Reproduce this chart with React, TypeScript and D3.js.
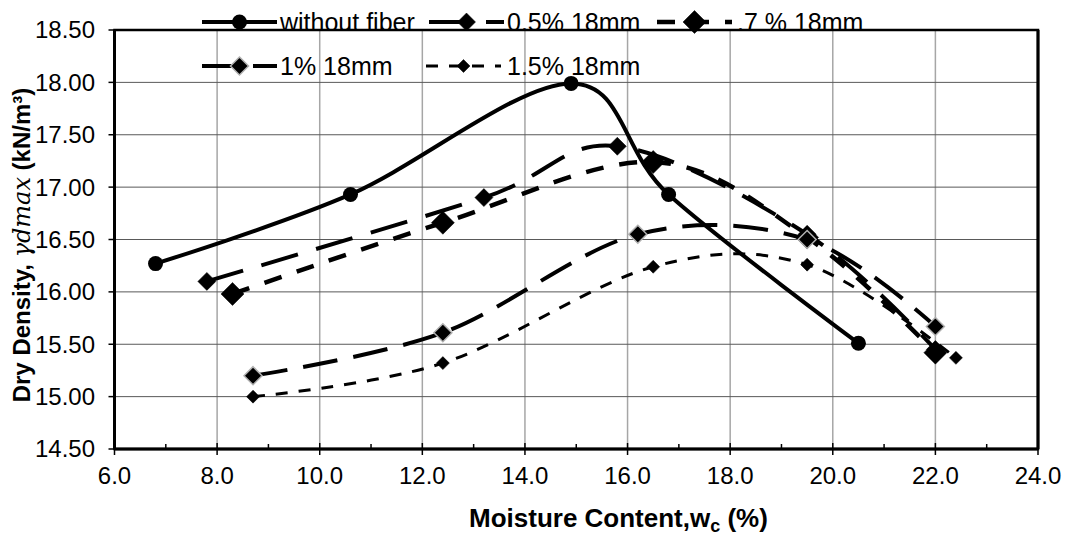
import React from "react";
import * as d3 from "d3";

const W = 1067;
const H = 536;

const seriesNames = ["without fiber", "0.5% 18mm", ".7 % 18mm", "1% 18mm", "1.5% 18mm"];

const xWithout = [6.8, 10.6, 14.9, 16.8, 20.5];
const yWithout = [16.27, 16.93, 17.99, 16.93, 15.51];

const x05 = [7.8, 13.2, 15.8, 19.5, 22.0];
const y05 = [16.1, 16.9, 17.39, 16.55, 15.45];

const x07 = [8.3, 12.4, 16.5, 19.5, 22.0];
const y07 = [15.98, 16.66, 17.24, 16.52, 15.42];

const x1 = [8.7, 12.4, 16.2, 19.5, 22.0];
const y1 = [15.2, 15.61, 16.55, 16.5, 15.67];

const x15 = [8.7, 12.4, 16.5, 19.5, 22.4];
const y15 = [15.0, 15.32, 16.24, 16.26, 15.37];

const xTicks = [6, 8, 10, 12, 14, 16, 18, 20, 22, 24];
const xMinor = [7, 9, 11, 13, 15, 17, 19, 21, 23];
const yTicks = [14.5, 15, 15.5, 16, 16.5, 17, 17.5, 18, 18.5];

type Style = {
  dash: string;
  width: number;
  marker: "circle" | "diamond";
  size: number;
  markerStroke: string;
};

const styles: Style[] = [
  { dash: "", width: 4, marker: "circle", size: 7.5, markerStroke: "#000" },
  { dash: "38,19", width: 4, marker: "diamond", size: 9, markerStroke: "#000" },
  { dash: "18,16", width: 4.5, marker: "diamond", size: 11.5, markerStroke: "#000" },
  { dash: "35,16", width: 4, marker: "diamond", size: 9, markerStroke: "#b0b0b0" },
  { dash: "12,11", width: 3, marker: "diamond", size: 6.5, markerStroke: "#000" },
];

const FONT = "'Liberation Sans', Arial, Helvetica, sans-serif";

export default function App() {
  const left = 114.5;
  const right = 1038;
  const top = 30;
  const bottom = 449;
  const x = d3.scaleLinear().domain([6, 24]).range([left, right]);
  const y = d3.scaleLinear().domain([14.5, 18.5]).range([bottom, top]);

  const data = [
    xWithout.map((v, i) => [v, yWithout[i]]),
    x05.map((v, i) => [v, y05[i]]),
    x07.map((v, i) => [v, y07[i]]),
    x1.map((v, i) => [v, y1[i]]),
    x15.map((v, i) => [v, y15[i]]),
  ];

  const line = d3
    .line<number[]>()
    .x((d) => x(d[0]))
    .y((d) => y(d[1]))
    .curve(d3.curveCatmullRom.alpha(0));

  const marker = (s: Style, cx: number, cy: number, key: string) =>
    s.marker === "circle" ? (
      <circle key={key} cx={cx} cy={cy} r={s.size} fill="#000" />
    ) : (
      <path
        key={key}
        d={`M${cx},${cy - s.size}L${cx + s.size},${cy}L${cx},${cy + s.size}L${cx - s.size},${cy}Z`}
        fill="#000"
        stroke={s.markerStroke}
        strokeWidth={s.markerStroke === "#000" ? 0.5 : 1.5}
      />
    );

  const legendItems = [
    { x0: 202, x1: 277, cy: 22, tx: 280 },
    { x0: 429, x1: 504, cy: 22, tx: 507 },
    { x0: 657, x1: 732, cy: 22, tx: 737 },
    { x0: 202, x1: 277, cy: 66, tx: 280 },
    { x0: 426, x1: 501, cy: 66, tx: 507 },
  ];

  return (
    <svg
      width={W}
      height={H}
      style={{ position: "absolute", left: 0, top: 0, background: "#fff" }}
      fontFamily={FONT}
    >
      <rect x={0} y={0} width={W} height={H} fill="#fff" />
      {/* grid */}
      {xTicks.slice(1, -1).map((t) => (
        <line key={"gx" + t} x1={x(t)} x2={x(t)} y1={top} y2={bottom} stroke="#a6a6a6" strokeWidth={1.5} />
      ))}
      {yTicks.slice(1, -1).map((t) => (
        <line key={"gy" + t} x1={left} x2={right} y1={y(t)} y2={y(t)} stroke="#595959" strokeWidth={1} />
      ))}
      {/* series */}
      {data.map((pts, i) => (
        <g key={"s" + i}>
          <path
            d={line(pts) || ""}
            fill="none"
            stroke="#000"
            strokeWidth={styles[i].width}
            strokeDasharray={styles[i].dash || undefined}
            strokeLinecap={i === 0 ? "round" : "butt"}
          />
          {pts.map((p, j) => marker(styles[i], x(p[0]), y(p[1]), `m${i}-${j}`))}
        </g>
      ))}
      {/* frame */}
      <rect x={left} y={top} width={right - left} height={bottom - top} fill="none" stroke="#000" strokeWidth={2.5} />
      <line x1={left} x2={left} y1={top} y2={bottom} stroke="#000" strokeWidth={3} />
      <line x1={left} x2={right} y1={bottom} y2={bottom} stroke="#000" strokeWidth={3} />
      <line x1={right} x2={right} y1={top} y2={bottom} stroke="#000" strokeWidth={3} />
      {/* y ticks */}
      {yTicks.map((t) => (
        <g key={"yt" + t}>
          <line x1={left - 6} x2={left} y1={y(t)} y2={y(t)} stroke="#000" strokeWidth={1.5} />
          <text x={95} y={y(t)} dy="0.35em" textAnchor="end" fontSize={24} fill="#000">
            {t.toFixed(2)}
          </text>
        </g>
      ))}
      {/* x ticks */}
      {xTicks.map((t) => (
        <g key={"xt" + t}>
          <line x1={x(t)} x2={x(t)} y1={bottom - 6} y2={bottom + 6} stroke="#000" strokeWidth={1.5} />
          <text x={x(t)} y={484} textAnchor="middle" fontSize={24} fill="#000">
            {t.toFixed(1)}
          </text>
        </g>
      ))}
      {xMinor.map((t) => (
        <line key={"xm" + t} x1={x(t)} x2={x(t)} y1={bottom - 5} y2={bottom} stroke="#000" strokeWidth={1.5} />
      ))}
      {/* axis titles */}
      <text x={469} y={527} fontSize={26} fontWeight="bold" fill="#000">
        Moisture Content,w
        <tspan fontSize={18} dy={5}>c</tspan>
        <tspan dy={-5}> (%)</tspan>
      </text>
      <text
        transform={`translate(30,245) rotate(-90)`}
        textAnchor="middle"
        fontSize={24}
        fontWeight="bold"
        fill="#000"
      >
        Dry Density,{" "}
        <tspan fontFamily="'DejaVu Serif', 'Liberation Serif', serif" fontStyle="italic" fontWeight="normal">
          γdmax
        </tspan>{" "}
        (kN/m³)
      </text>
      {/* legend */}
      {legendItems.map((it, i) => (
        <g key={"lg" + i}>
          <line
            x1={it.x0}
            x2={it.x1}
            y1={it.cy}
            y2={it.cy}
            stroke="#000"
            strokeWidth={styles[i].width}
            strokeDasharray={styles[i].dash || undefined}
          />
          {marker(styles[i], (it.x0 + it.x1) / 2, it.cy, "lm" + i)}
          <text x={it.tx} y={it.cy} dy="0.36em" fontSize={25} fill="#000">
            {seriesNames[i]}
          </text>
        </g>
      ))}
    </svg>
  );
}
